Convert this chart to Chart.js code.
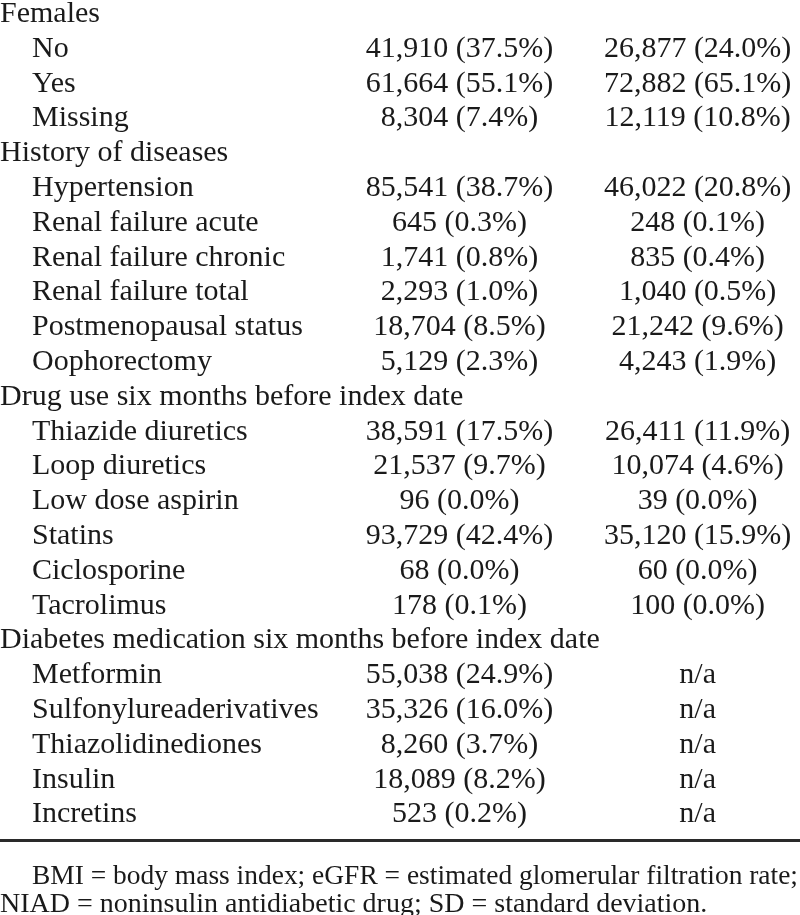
<!DOCTYPE html>
<html>
<head>
<meta charset="utf-8">
<title>Baseline characteristics</title>
<script src="https://cdn.jsdelivr.net/npm/chart.js@4.4.1/dist/chart.umd.min.js"></script>
<style>
	html, body { margin: 0; padding: 0; background: #fff; }
	#wrap { width: 800px; height: 915px; }
</style>
</head>
<body>
<div id="wrap"><canvas id="tableChart" width="800" height="915"></canvas></div>
<script>
// Table rows (group headers have no values)
const rowLabels = [
	'Females', 'No', 'Yes', 'Missing',
	'History of diseases', 'Hypertension', 'Renal failure acute', 'Renal failure chronic',
	'Renal failure total', 'Postmenopausal status', 'Oophorectomy',
	'Drug use six months before index date', 'Thiazide diuretics', 'Loop diuretics',
	'Low dose aspirin', 'Statins', 'Ciclosporine', 'Tacrolimus',
	'Diabetes medication six months before index date', 'Metformin',
	'Sulfonylureaderivatives', 'Thiazolidinediones', 'Insulin', 'Incretins'
];
const rowIsHeader = [
	true, false, false, false,
	true, false, false, false, false, false, false,
	true, false, false, false, false, false, false,
	true, false, false, false, false, false
];

// First value column
const countsA = [
	null, 41910, 61664, 8304,
	null, 85541, 645, 1741, 2293, 18704, 5129,
	null, 38591, 21537, 96, 93729, 68, 178,
	null, 55038, 35326, 8260, 18089, 523
];
const pctA = [
	null, 37.5, 55.1, 7.4,
	null, 38.7, 0.3, 0.8, 1.0, 8.5, 2.3,
	null, 17.5, 9.7, 0.0, 42.4, 0.0, 0.1,
	null, 24.9, 16.0, 3.7, 8.2, 0.2
];

// Second value column (null on an item row = n/a)
const countsB = [
	null, 26877, 72882, 12119,
	null, 46022, 248, 835, 1040, 21242, 4243,
	null, 26411, 10074, 39, 35120, 60, 100,
	null, null, null, null, null, null
];
const pctB = [
	null, 24.0, 65.1, 10.8,
	null, 20.8, 0.1, 0.4, 0.5, 9.6, 1.9,
	null, 11.9, 4.6, 0.0, 15.9, 0.0, 0.0,
	null, null, null, null, null, null
];

const footnotes = [
	'BMI = body mass index; eGFR = estimated glomerular filtration rate;',
	'NIAD = noninsulin antidiabetic drug; SD = standard deviation.'
];

// Layout / style ------------------------------------------------------------
const STYLE = {
	font: '30px "Liberation Serif", "Times New Roman", serif',
	footFont: '28px "Liberation Serif", "Times New Roman", serif',
	text: '#1a1a1a',
	rule: '#2a2a2a',
	indent: 32,
	ruleAt: 23.52,          // y value of the closing rule
	footAt: [24.77, 25.57], // y values of the footnote lines
	footIndent: [32, 0],
	footMaxWidth: [766, 780]
};
const COL_LABEL = -0.93, COL_A = 1, COL_B = 2;

function fmtCell(count, pct) {
	if (count === null) return 'n/a';
	return `${count.toLocaleString('en-US')} (${pct.toFixed(1)}%)`;
}

const labelData = rowLabels.map((_, i) => ({ x: COL_LABEL, y: i }));
const colAData = [];
const colBData = [];
rowLabels.forEach((_, i) => {
	if (rowIsHeader[i]) return;
	colAData.push({ x: COL_A, y: i, text: fmtCell(countsA[i], pctA[i]) });
	colBData.push({ x: COL_B, y: i, text: fmtCell(countsB[i], pctB[i]) });
});

// Draws the cell texts at the dataset element positions
const tableText = {
	id: 'tableText',
	afterDatasetsDraw(chart) {
		const ctx = chart.ctx;
		const y = chart.scales.y;
		ctx.save();
		ctx.font = STYLE.font;
		ctx.fillStyle = STYLE.text;
		ctx.textBaseline = 'alphabetic';

		// row labels
		ctx.textAlign = 'left';
		chart.getDatasetMeta(0).data.forEach((el, i) => {
			const dx = rowIsHeader[i] ? 0 : STYLE.indent;
			ctx.fillText(rowLabels[i], el.x + dx, el.y);
		});

		// value columns, centred
		ctx.textAlign = 'center';
		[1, 2].forEach(d => {
			const ds = chart.data.datasets[d];
			chart.getDatasetMeta(d).data.forEach((el, j) => {
				ctx.fillText(ds.data[j].text, el.x, el.y);
			});
		});

		// closing rule
		const ry = y.getPixelForValue(STYLE.ruleAt);
		ctx.strokeStyle = STYLE.rule;
		ctx.lineWidth = 3;
		ctx.beginPath();
		ctx.moveTo(chart.chartArea.left, ry);
		ctx.lineTo(chart.chartArea.right, ry);
		ctx.stroke();

		// footnote
		ctx.font = STYLE.footFont;
		ctx.textAlign = 'left';
		footnotes.forEach((line, k) => {
			ctx.fillText(line, chart.chartArea.left + STYLE.footIndent[k],
				y.getPixelForValue(STYLE.footAt[k]), STYLE.footMaxWidth[k]);
		});
		ctx.restore();
	}
};

const pointStyle = { pointRadius: 0, pointHoverRadius: 0, showLine: false };

new Chart(document.getElementById('tableChart').getContext('2d'), {
	type: 'scatter',
	data: {
		datasets: [
			{ label: 'Characteristic', data: labelData, ...pointStyle },
			{ label: 'Column A', data: colAData, ...pointStyle },
			{ label: 'Column B', data: colBData, ...pointStyle }
		]
	},
	options: {
		responsive: false,
		animation: false,
		events: [],
		devicePixelRatio: 1,
		layout: { padding: 0 },
		scales: {
			x: { type: 'linear', min: -0.93, max: 2.43, display: false },
			y: { type: 'linear', min: -0.632, max: 25.66, reverse: true, display: false }
		},
		plugins: {
			legend: { display: false },
			tooltip: { enabled: false }
		}
	},
	plugins: [tableText]
});
</script>
</body>
</html>
